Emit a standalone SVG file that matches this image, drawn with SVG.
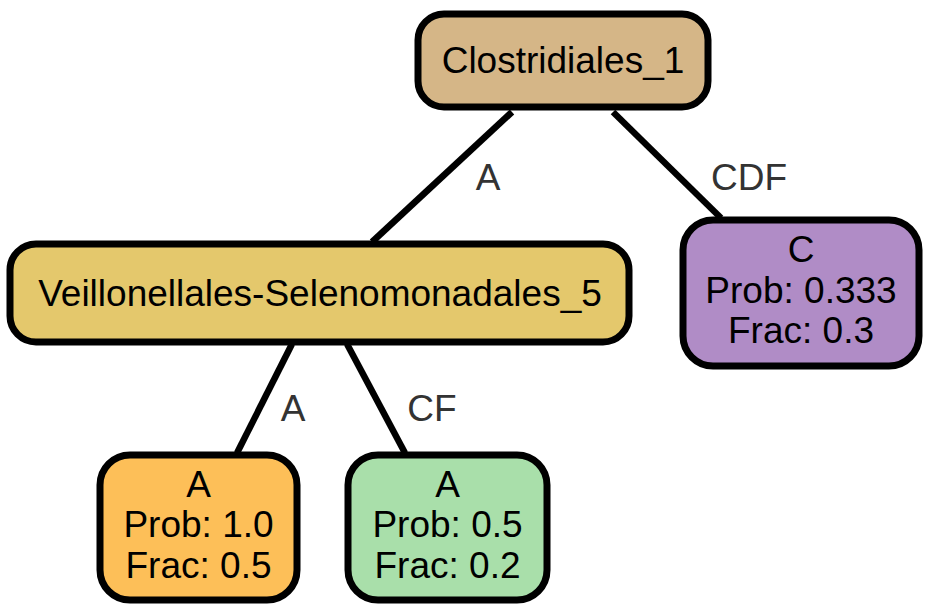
<svg xmlns="http://www.w3.org/2000/svg" width="932" height="613" viewBox="0 0 932 613">
<style>
.node rect{stroke:#000;stroke-width:7}
.node text{font-family:"Liberation Sans",Arial,sans-serif;font-size:37px;fill:#000;text-anchor:middle}
.edges line{stroke:#000;stroke-width:6.5}
.elabel{font-family:"Liberation Sans",Arial,sans-serif;font-size:37px;fill:#333;text-anchor:middle}
</style>
<rect width="932" height="613" fill="#fff"/>
<g class="edges">
<line x1="512" y1="112" x2="372" y2="242"/>
<line x1="613" y1="112" x2="721" y2="218"/>
<line x1="292" y1="344" x2="237" y2="453"/>
<line x1="347" y1="344" x2="405" y2="453"/>
<text class="elabel" x="488" y="190">A</text>
<text class="elabel" x="749" y="190">CDF</text>
<text class="elabel" x="293" y="421">A</text>
<text class="elabel" x="432" y="421">CF</text>
</g>
<g id="n_root" class="node">
<rect x="418" y="14" width="290" height="93" rx="26" fill="#d5b687"/>
<text x="563" y="73">Clostridiales_1</text>
</g>
<g id="n_veil" class="node">
<rect x="10" y="244" width="619" height="98" rx="26" fill="#e4c86c"/>
<text x="320" y="306">Veillonellales-Selenomonadales_5</text>
</g>
<g id="n_leafA" class="node">
<rect x="100" y="455" width="197" height="145" rx="30" fill="#fdbf58"/>
<text x="198.5" y="497">A</text>
<text x="198.5" y="537">Prob: 1.0</text>
<text x="198.5" y="578">Frac: 0.5</text>
</g>
<g id="n_leafMid" class="node">
<rect x="348" y="455" width="199" height="145" rx="30" fill="#a9dfaa"/>
<text x="447.5" y="497">A</text>
<text x="447.5" y="537">Prob: 0.5</text>
<text x="447.5" y="578">Frac: 0.2</text>
</g>
<g id="n_leafC" class="node">
<rect x="683" y="220" width="236" height="146" rx="30" fill="#b08cc6"/>
<text x="801" y="262">C</text>
<text x="801" y="303">Prob: 0.333</text>
<text x="801" y="343">Frac: 0.3</text>
</g>
</svg>
